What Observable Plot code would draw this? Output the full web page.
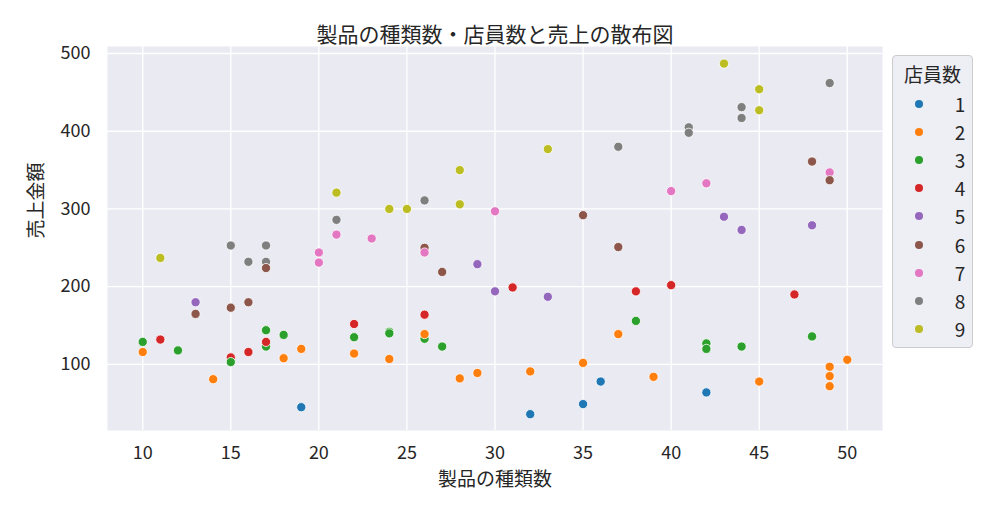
<!DOCTYPE html>
<html>
<head>
<meta charset="utf-8">
<script src="https://cdn.jsdelivr.net/npm/d3@7"></script>
<script src="https://cdn.jsdelivr.net/npm/@observablehq/plot@0.6"></script>
<style>
  body { margin: 0; background: #ffffff; font-family: "Noto Sans CJK JP", sans-serif; }
  #wrap { position: relative; width: 992px; height: 510px; }
  #legend {
    position: absolute; left: 892px; top: 55px; width: 79px; height: 291px;
    border: 1px solid #cccccc; border-radius: 4px; background: rgba(234,234,242,0.8);
    color: #262626; font-family: "Noto Sans CJK JP", sans-serif;
  }
  #legend .ttl { position: absolute; left: 0; width: 79px; top: 4px; height: 28px; line-height: 28px; text-align: center; font-size: 19px; }
  #legend .row { position: absolute; left: 0; width: 79px; height: 28px; }
  #legend .dot { position: absolute; left: 22px; top: 10px; width: 8px; height: 8px; border-radius: 50%; }
  #legend .lab { position: absolute; left: 56px; width: 22px; top: 0; height: 28px; line-height: 28px; text-align: center; font-size: 19px; }
</style>
</head>
<body>
<div id="wrap"></div>
<script>
// 製品の種類数 (x), 売上金額 (y), 店員数 (color) — parallel arrays, drawing order
const products = [
  19, 32, 35, 36, 42,
  10, 14, 18, 19, 22, 24, 28, 29, 32, 35, 37, 39, 45, 49, 49, 49, 50,
  10, 12, 17, 17, 18, 22, 24, 24, 26, 27, 38, 42, 42, 44, 48,
  11, 15, 16, 17, 22, 26, 31, 38, 40, 47,
  13, 29, 30, 33, 43, 44, 48,
  13, 15, 16, 26, 27, 35, 37, 48,
  20, 20, 21, 23, 26, 30, 40, 42, 49,
  15, 16, 17, 17, 21, 26, 37, 41, 41, 44, 44, 49,
  11, 21, 24, 25, 28, 28, 33, 43, 45, 45,
  17, 15, 26, 49
];
const sales = [
  45, 36, 49, 78, 64,
  116, 81, 108, 120, 114, 107, 82, 89, 91, 102, 139, 84, 78, 97, 85, 72, 106,
  129, 118, 144, 123, 138, 135, 142, 140, 133, 123, 156, 127, 120, 123, 136,
  132, 109, 116, 129, 152, 164, 199, 194, 202, 190,
  180, 229, 194, 187, 290, 273, 279,
  165, 173, 180, 250, 219, 292, 251, 361,
  244, 231, 267, 262, 244, 297, 323, 333, 347,
  253, 232, 253, 232, 286, 311, 380, 405, 398, 431, 417, 462,
  237, 321, 300, 300, 350, 306, 377, 487, 454, 427,
  224, 103, 139, 337
];
const staff = [
  1, 1, 1, 1, 1,
  2, 2, 2, 2, 2, 2, 2, 2, 2, 2, 2, 2, 2, 2, 2, 2, 2,
  3, 3, 3, 3, 3, 3, 3, 3, 3, 3, 3, 3, 3, 3, 3,
  4, 4, 4, 4, 4, 4, 4, 4, 4, 4,
  5, 5, 5, 5, 5, 5, 5,
  6, 6, 6, 6, 6, 6, 6, 6,
  7, 7, 7, 7, 7, 7, 7, 7, 7,
  8, 8, 8, 8, 8, 8, 8, 8, 8, 8, 8, 8,
  9, 9, 9, 9, 9, 9, 9, 9, 9, 9,
  6, 3, 2, 6
];
const staffLevels = [1, 2, 3, 4, 5, 6, 7, 8, 9];
const xTicks = [10, 15, 20, 25, 30, 35, 40, 45, 50];
const yTicks = [100, 200, 300, 400, 500];
const palette = d3.schemeCategory10.slice(0, 9);
const titleText = "製品の種類数・店員数と売上の散布図";
const xLabel = "製品の種類数";
const yLabel = "売上金額";
const legendTitle = "店員数";

const data = products.map((p, i) => ({p, s: sales[i], n: staff[i]}));
const ink = "#262626";
const font = "Noto Sans CJK JP";

const plot = Plot.plot({
  width: 992,
  height: 510,
  marginLeft: 107,
  marginRight: 110,
  marginTop: 46,
  marginBottom: 80,
  style: {fontFamily: font, fontSize: "18px", color: ink, background: "#ffffff"},
  x: {domain: [8, 52], ticks: xTicks},
  y: {domain: [15, 509], ticks: yTicks},
  color: {type: "ordinal", domain: staffLevels, range: palette},
  marks: [
    Plot.frame({fill: "#eaeaf2", stroke: "none"}),
    Plot.gridX(xTicks, {stroke: "#ffffff", strokeOpacity: 1, strokeWidth: 1.3}),
    Plot.gridY(yTicks, {stroke: "#ffffff", strokeOpacity: 1, strokeWidth: 1.3}),
    Plot.axisX(xTicks, {tickSize: 0, tickPadding: 16, label: null, fontSize: 18, fill: ink}),
    Plot.axisY(yTicks, {tickSize: 0, tickPadding: 17, label: null, fontSize: 18, fill: ink}),
    Plot.dot(data, {x: "p", y: "s", fill: d => d.n, r: 4.6, stroke: "#ffffff", strokeWidth: 0.8}),
    Plot.text([titleText], {text: d => d, frameAnchor: "top", dy: -19, fontSize: 21, fill: ink}),
    Plot.text([xLabel], {text: d => d, frameAnchor: "bottom", dy: 55, fontSize: 19, fill: ink}),
    Plot.text([yLabel], {text: d => d, frameAnchor: "left", dx: -71, rotate: -90, fontSize: 19, fill: ink})
  ]
});

const wrap = document.getElementById("wrap");
wrap.appendChild(plot);

// legend
const colorScale = plot.scale("color");
const legend = document.createElement("div");
legend.id = "legend";
const ttl = document.createElement("div");
ttl.className = "ttl";
ttl.textContent = legendTitle;
legend.appendChild(ttl);
staffLevels.forEach((lv, i) => {
  const row = document.createElement("div");
  row.className = "row";
  row.style.top = (34 + i * 28.1) + "px";
  const dot = document.createElement("div");
  dot.className = "dot";
  dot.style.background = colorScale.apply(lv);
  const lab = document.createElement("div");
  lab.className = "lab";
  lab.textContent = String(lv);
  row.appendChild(dot);
  row.appendChild(lab);
  legend.appendChild(row);
});
wrap.appendChild(legend);
</script>
</body>
</html>
